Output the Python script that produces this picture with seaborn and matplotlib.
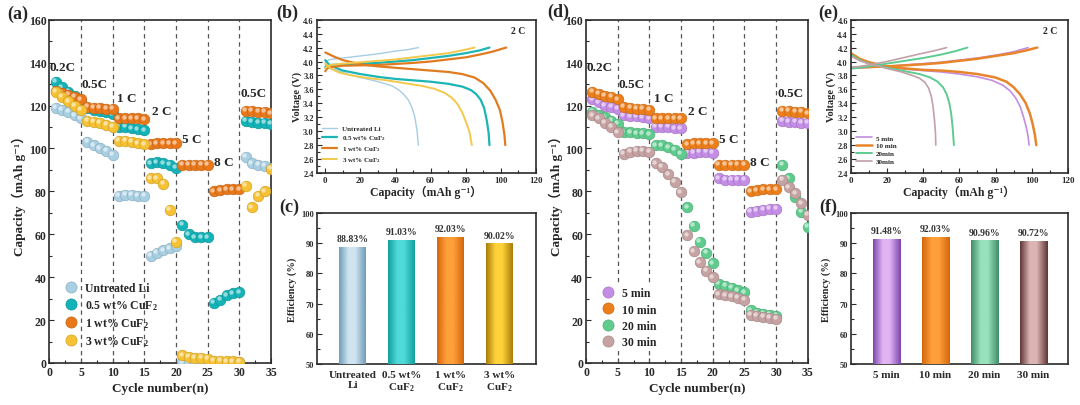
import numpy as np
import pandas as pd
import matplotlib
matplotlib.use("Agg")
import matplotlib.pyplot as plt
import seaborn as sns
import matplotlib.transforms as mtransforms
from matplotlib.colors import LinearSegmentedColormap
from matplotlib.lines import Line2D
from matplotlib.ticker import MultipleLocator

# ---------------- data ----------------
cycles = list(range(1, 36))

# panel (a)
cap_untreated = [119, 118, 117, 115.5, 114, 103, 101.5, 100, 99, 97,
                 78, 78.5, 78.3, 78, 78, 50, 51.5, 52.5, 53.5, 54.5,
                 0.3, 0.3, 0.3, 0.3, 0.3, 0.3, 0.3, 0.3, 0.3, 0.3,
                 96, 93, 92.5, 92, 91]
cap_05wt = [131, 128.5, 126.5, 124.5, 122, 119, 118, 117.5, 117, 116,
            110, 110, 109.5, 109, 108.5, 93, 93.5, 93, 92.5, 91,
            64.5, 60, 58.5, 58.5, 58.5, 28, 29.5, 31.5, 32.5, 33,
            113, 112.5, 112, 112, 111.5]
cap_1wt = [127, 126, 125, 124, 123, 119.5, 119, 119, 118.5, 118.5,
           114, 114, 114, 114, 113.5, 102, 102.5, 102.5, 102.5, 102.5,
           92.5, 92.5, 92.5, 92.5, 92.5, 80, 80.5, 81, 81, 81,
           117.5, 117.5, 117, 117, 116.5]
cap_3wt = [126.5, 124, 122, 120, 118, 113, 112.5, 112, 111, 110,
           103.5, 103.5, 103, 102.5, 102, 86, 86, 83.5, 71.5, 56.5,
           3.5, 3, 2.5, 2.5, 2, 1, 1, 0.8, 0.8, 0.5,
           82.5, 72.5, 78, 80, 90.5]

# panel (d)
cap_5min = [123, 121.5, 120, 119.5, 118.5, 115.5, 115, 115, 114.5, 114,
            110, 110, 110, 109.5, 109.5, 98, 98, 98.5, 98.5, 98,
            86, 85.5, 85.5, 85.5, 85.5, 70.5, 71, 71.5, 72, 72,
            113, 112.5, 112.5, 112, 112]
cap_10min = [126.5, 125.5, 124.5, 124, 123, 119.5, 119, 118.5, 118.5, 118,
             114, 114, 114, 114, 114, 102, 102.5, 102.5, 102.5, 102.5,
             92.5, 92.5, 92.5, 92.5, 92.5, 80, 80.5, 81, 81, 81,
             117.5, 117.5, 117, 117, 116.5]
cap_20min = [117, 115.5, 114.5, 113, 111.5, 107.5, 107.5, 107, 107, 106.5,
             101.5, 101.5, 100.5, 99.5, 97.5, 72.5, 64, 56.5, 51.5, 46.5,
             37, 36, 35, 34, 33, 24.5, 23.5, 23, 22.5, 22,
             92.5, 86, 77.5, 70.5, 63.5]
cap_30min = [115.5, 114, 112, 110, 107.5, 97.5, 98.5, 99, 99, 98.5,
             93, 91.5, 88, 84.5, 79.5, 59.5, 52, 47, 43, 40,
             32, 31.5, 31, 30.5, 29.5, 22.5, 22, 21.5, 21, 20.5,
             85.5, 82, 79, 74.5, 69]

rate_boundaries = [5, 10, 15, 20, 25, 30]
rate_labels = ["0.2C", "0.5C", "1 C", "2 C", "5 C", "8 C", "0.5C"]

# panel (b) charge / discharge curves (capacity, voltage)
b_untreated_chg_x = [0, 1, 3, 10, 20, 30, 40, 47, 53]
b_untreated_chg_y = [3.98, 4.01, 4.03, 4.05, 4.08, 4.11, 4.15, 4.17, 4.20]
b_untreated_dis_x = [0, 3, 7, 14, 20, 27, 33, 38, 42, 45, 47.5, 49.5, 51, 52.2, 53]
b_untreated_dis_y = [3.95, 3.90, 3.87, 3.81, 3.77, 3.73, 3.69, 3.65, 3.59, 3.52,
                     3.44, 3.33, 3.20, 3.02, 2.80]
b_05_chg_x = [0, 1, 3, 10, 20, 30, 40, 50, 60, 70, 80, 88, 93.5]
b_05_chg_y = [3.92, 3.94, 3.95, 3.96, 3.97, 3.98, 4.00, 4.02, 4.05, 4.08, 4.12, 4.16, 4.20]
b_05_dis_x = [0, 2, 5, 10, 20, 30, 40, 50, 60, 70, 78, 83, 86, 88.5, 90.5, 92, 93, 93.5]
b_05_dis_y = [4.02, 3.96, 3.92, 3.87, 3.82, 3.78, 3.75, 3.73, 3.71, 3.68, 3.64,
              3.59, 3.53, 3.45, 3.33, 3.15, 2.98, 2.80]
b_1_chg_x = [0, 1, 3, 10, 20, 30, 40, 50, 60, 70, 80, 88, 95, 103]
b_1_chg_y = [3.86, 3.90, 3.92, 3.94, 3.945, 3.95, 3.965, 3.98, 4.00, 4.03, 4.06,
             4.10, 4.14, 4.20]
b_1_dis_x = [0, 5, 10, 20, 30, 40, 50, 60, 70, 78, 85, 90, 94, 97, 99.5, 101, 102, 102.5]
b_1_dis_y = [4.13, 4.07, 4.02, 3.96, 3.93, 3.91, 3.89, 3.87, 3.85, 3.82, 3.77, 3.69,
             3.58, 3.45, 3.30, 3.12, 2.95, 2.80]
b_3_chg_x = [0, 1, 3, 10, 20, 30, 40, 50, 60, 70, 78, 85]
b_3_chg_y = [3.90, 3.93, 3.95, 3.97, 3.99, 4.01, 4.03, 4.06, 4.09, 4.12, 4.16, 4.20]
b_3_dis_x = [0, 3, 8, 15, 25, 35, 45, 55, 62, 68, 72, 75, 78, 80, 82, 83.5]
b_3_dis_y = [3.97, 3.90, 3.84, 3.80, 3.76, 3.73, 3.69, 3.65, 3.61, 3.55, 3.48, 3.40,
             3.27, 3.14, 3.00, 2.80]

# panel (e)
e_5_chg_x = [0, 10, 20, 30, 40, 50, 60, 70, 80, 90, 98]
e_5_chg_y = [3.90, 3.915, 3.93, 3.95, 3.97, 3.99, 4.02, 4.05, 4.09, 4.14, 4.20]
e_5_dis_x = [0, 5, 10, 20, 30, 40, 50, 60, 70, 78, 84, 88, 91, 93.5, 95.5, 97, 98, 98.5]
e_5_dis_y = [4.10, 4.02, 3.97, 3.92, 3.89, 3.87, 3.85, 3.82, 3.78, 3.73, 3.66, 3.58,
             3.48, 3.36, 3.20, 3.05, 2.92, 2.80]
e_10_chg_x = [0, 10, 20, 30, 40, 50, 60, 70, 80, 90, 97, 103]
e_10_chg_y = [3.91, 3.92, 3.93, 3.945, 3.96, 3.98, 4.01, 4.04, 4.08, 4.12, 4.16, 4.20]
e_10_dis_x = [0, 5, 10, 20, 30, 40, 50, 60, 70, 80, 86, 90, 93.5, 96.5, 99, 100.5,
              101.7, 102.5]
e_10_dis_y = [4.12, 4.04, 3.99, 3.93, 3.90, 3.88, 3.87, 3.85, 3.82, 3.77, 3.71, 3.63,
              3.53, 3.41, 3.25, 3.10, 2.95, 2.80]
e_20_chg_x = [0, 5, 10, 20, 30, 40, 50, 58, 64.5]
e_20_chg_y = [3.90, 3.91, 3.93, 3.97, 4.01, 4.05, 4.10, 4.15, 4.20]
e_20_dis_x = [0, 5, 10, 20, 30, 38, 44, 48, 51, 53, 54.5, 55.5, 56.3, 57]
e_20_dis_y = [4.10, 4.02, 3.97, 3.91, 3.86, 3.82, 3.77, 3.71, 3.63, 3.53, 3.40, 3.25,
              3.05, 2.80]
e_30_chg_x = [0, 5, 10, 20, 30, 40, 47, 53]
e_30_chg_y = [3.92, 3.93, 3.95, 4.00, 4.06, 4.12, 4.16, 4.20]
e_30_dis_x = [0, 5, 10, 20, 28, 34, 38, 41, 43, 44.5, 45.5, 46.3, 46.8, 47]
e_30_dis_y = [4.08, 4.01, 3.97, 3.90, 3.85, 3.80, 3.76, 3.70, 3.62, 3.50, 3.35, 3.15,
              2.98, 2.80]

# panel (c) / (f)
c_categories = ["Untreated\nLi", "0.5 wt%\nCuF$_2$", "1 wt%\nCuF$_2$", "3 wt%\nCuF$_2$"]
c_values = [88.83, 91.03, 92.03, 90.02]
f_categories = ["5 min", "10 min", "20 min", "30 min"]
f_values = [91.48, 92.03, 90.96, 90.72]

# ---------------- style ----------------
sns.set_theme(style="ticks")
plt.rcParams["font.family"] = ["Liberation Serif", "DejaVu Serif", "Noto Sans CJK SC"]
plt.rcParams["font.weight"] = "bold"
plt.rcParams["axes.labelweight"] = "bold"
plt.rcParams["mathtext.fontset"] = "custom"
plt.rcParams["mathtext.rm"] = "Liberation Serif:bold"
plt.rcParams["mathtext.default"] = "regular"

fig = plt.figure(figsize=(10.8, 4.06), dpi=100)

W, H = 1080, 406
def add_ax(l, r, t, b):
    return fig.add_axes([l / W, 1 - b / H, (r - l) / W, (b - t) / H])

ax_a = add_ax(49.3, 271, 20.7, 364)
ax_b = add_ax(316.5, 536, 20.7, 174)
ax_c = add_ax(316.5, 536, 214, 365)
ax_d = add_ax(586, 807.7, 20.7, 364)
ax_e = add_ax(850.7, 1068, 20.7, 174)
ax_f = add_ax(850.7, 1068, 214, 365)

def style_ax(ax, lsize=8):
    for s in ax.spines.values():
        s.set_visible(True)
        s.set_linewidth(1.2)
        s.set_color("#2a2a2a")
    ax.tick_params(which="both", direction="in", width=0.8, colors="#2a2a2a",
                   labelsize=lsize, pad=2)
    ax.tick_params(which="major", length=3.5)
    ax.tick_params(which="minor", length=2)
    ax.set_facecolor("white")

def darker(c, f=0.75):
    r, g, b = matplotlib.colors.to_rgb(c)
    return (r * f, g * f, b * f)

# ---------------- rate panels ----------------
def rate_panel(ax, series, names, colors, legend_frame):
    ax.set_xlim(0, 35)
    ax.set_ylim(0, 160)
    for xb in rate_boundaries:
        ax.axvline(xb, color="#555555", lw=0.9, ls=(0, (3.5, 3)), zorder=1)
    hl = mtransforms.offset_copy(ax.transData, fig=fig, x=-1.1, y=1.1, units="points")
    for vals, name, col in zip(series, names, colors):
        df = pd.DataFrame({"cycle": cycles, "cap": vals})
        sns.scatterplot(data=df, x="cycle", y="cap", color=col, s=58,
                        edgecolor=darker(col, 0.85), linewidth=0.5, ax=ax,
                        zorder=3, legend=False)
        ax.scatter(df["cycle"], df["cap"], s=10, color="white", alpha=0.55,
                   linewidths=0, transform=hl, zorder=3)
    style_ax(ax, 8.5)
    ax.xaxis.set_major_locator(MultipleLocator(5))
    ax.xaxis.set_minor_locator(MultipleLocator(2.5))
    ax.yaxis.set_major_locator(MultipleLocator(20))
    ax.yaxis.set_minor_locator(MultipleLocator(10))
    ax.set_xlabel("Cycle number(n)", fontsize=9.5, labelpad=3)
    ax.set_ylabel("Capacity\uff08mAh g\u207b\u00b9\uff09", fontsize=9.5, labelpad=2)
    label_pos = [(2.1, 138), (7.2, 130), (12.3, 123.5), (17.7, 117.5),
                 (22.5, 104.4), (27.5, 93.6), (32.3, 126)]
    for lab, (x, y) in zip(rate_labels, label_pos):
        ax.text(x, y, lab, fontsize=9.5, fontweight="bold", ha="center",
                va="center", zorder=5)
    handles = [Line2D([], [], ls="none", marker="o", ms=8, color=c,
                      markeredgecolor=darker(c, 0.85), markeredgewidth=0.5)
               for c in colors]
    leg = ax.legend(handles, names, loc="lower left", bbox_to_anchor=(0.03, 0.02),
                    frameon=legend_frame, fontsize=8.5, handletextpad=0.6,
                    labelspacing=0.35, borderpad=0.2, handlelength=1.2)
    if legend_frame:
        leg.get_frame().set_edgecolor("none")
        leg.get_frame().set_alpha(1)
    leg.set_zorder(4)

rate_panel(ax_a, [cap_untreated, cap_05wt, cap_1wt, cap_3wt],
           ["Untreated Li", "0.5 wt% CuF$_2$", "1 wt% CuF$_2$", "3 wt% CuF$_2$"],
           ["#a9cfe3", "#14b3b8", "#e9781a", "#f6c132"], False)
rate_panel(ax_d, [cap_5min, cap_10min, cap_20min, cap_30min],
           ["5 min", "10 min", "20 min", "30 min"],
           ["#c48de6", "#ec7f1c", "#5fcc8e", "#c6a2a2"], True)

# ---------------- voltage panels ----------------
def voltage_panel(ax, curves, names, colors, lws, xmin):
    rows = []
    for (cx, cy, dx, dy), name in zip(curves, names):
        for x, y in zip(cx, cy):
            rows.append((x, y, name, name + "_c"))
        for x, y in zip(dx, dy):
            rows.append((x, y, name, name + "_d"))
    df = pd.DataFrame(rows, columns=["cap", "volt", "sample", "branch"])
    for name, col, lw in zip(names, colors, lws):
        sub = df[df["sample"] == name]
        sns.lineplot(data=sub, x="cap", y="volt", units="branch", estimator=None,
                     sort=False, color=col, lw=lw, ax=ax, legend=False)
    ax.set_xlim(xmin, 120)
    ax.set_ylim(2.4, 4.6)
    style_ax(ax, 6.5)
    ax.tick_params(axis="y", labelsize=6)
    ax.xaxis.set_major_locator(MultipleLocator(20))
    ax.xaxis.set_minor_locator(MultipleLocator(10))
    ax.yaxis.set_major_locator(MultipleLocator(0.2))
    ax.yaxis.set_minor_locator(MultipleLocator(0.1))
    ax.set_xlabel("Capacity\uff08mAh g\u207b\u00b9\uff09", fontsize=8.5, labelpad=1)
    ax.set_ylabel("Voltage (V)", fontsize=7.5, labelpad=1)
    ax.text(110, 4.44, "2 C", fontsize=7, fontweight="bold", ha="center", va="center")
    handles = [Line2D([], [], color=c, lw=lw) for c, lw in zip(colors, lws)]
    ax.legend(handles, names, loc="lower left", bbox_to_anchor=(0.0, 0.02),
              frameon=False, fontsize=5, handlelength=2.2, labelspacing=0.3,
              handletextpad=0.6, borderpad=0.3)

voltage_panel(ax_b,
              [(b_untreated_chg_x, b_untreated_chg_y, b_untreated_dis_x, b_untreated_dis_y),
               (b_05_chg_x, b_05_chg_y, b_05_dis_x, b_05_dis_y),
               (b_1_chg_x, b_1_chg_y, b_1_dis_x, b_1_dis_y),
               (b_3_chg_x, b_3_chg_y, b_3_dis_x, b_3_dis_y)],
              ["Untreated Li", "0.5 wt% CuF$_2$", "1 wt% CuF$_2$", "3 wt% CuF$_2$"],
              ["#a6cde3", "#1bb5b5", "#e07b20", "#f2c94c"], [1.0, 1.6, 1.6, 1.4], -5)
voltage_panel(ax_e,
              [(e_5_chg_x, e_5_chg_y, e_5_dis_x, e_5_dis_y),
               (e_10_chg_x, e_10_chg_y, e_10_dis_x, e_10_dis_y),
               (e_20_chg_x, e_20_chg_y, e_20_dis_x, e_20_dis_y),
               (e_30_chg_x, e_30_chg_y, e_30_dis_x, e_30_dis_y)],
              ["5 min", "10 min", "20min", "30min"],
              ["#c28ee0", "#e8842a", "#5ccc90", "#c4a0a8"], [1.2, 1.8, 1.4, 1.2], 0)

# ---------------- efficiency bars ----------------
def bar_panel(ax, cats, vals, grads, xlim):
    df = pd.DataFrame({"cat": cats, "eff": vals})
    sns.barplot(data=df, x="cat", y="eff", ax=ax, width=0.55,
                color="#cccccc", edgecolor="none", linewidth=0, zorder=2)
    ymin = 50
    for patch, (dark, light), v in zip(ax.patches, grads, vals):
        x0, w, h = patch.get_x(), patch.get_width(), patch.get_height()
        cmap = LinearSegmentedColormap.from_list("g", [(0, dark), (0.35, light),
                                                       (0.6, light), (1, dark)])
        grad = np.linspace(0, 1, 256).reshape(1, -1)
        im = ax.imshow(grad, extent=[x0, x0 + w, ymin, h], aspect="auto", cmap=cmap,
                       zorder=3, interpolation="bilinear")
        im.set_clip_path(patch)
        patch.set_facecolor("none")
        ax.text(x0 + w / 2, v + 1.2, f"{v:.2f}%", ha="center", va="bottom",
                fontsize=7, fontweight="bold", color="#333333")
    ax.set_xlim(*xlim)
    ax.set_ylim(ymin, 100)
    style_ax(ax, 6)
    ax.tick_params(axis="x", length=0, labelsize=8, pad=4)
    ax.yaxis.set_major_locator(MultipleLocator(10))
    ax.yaxis.set_minor_locator(MultipleLocator(5))
    ax.set_xlabel("")
    ax.set_ylabel("Efficiency (%)", fontsize=7.5, labelpad=3)

bar_panel(ax_c, c_categories, c_values,
          [("#6f9cbb", "#cfe4f0"), ("#139e9e", "#4fdada"),
           ("#d4660c", "#ff9f3a"), ("#a87c08", "#ffd23a")], (-0.74, 3.74))
bar_panel(ax_f, f_categories, f_values,
          [("#7c44ad", "#e0b4f2"), ("#d4660c", "#ff9f3a"),
           ("#3f8c68", "#98e2bc"), ("#5e3434", "#dcb4b4")], (-0.72, 3.7))

# ---------------- panel tags ----------------
for tag, x, y in [("(a)", 18, 14), ("(b)", 287, 13), ("(c)", 289, 207),
                  ("(d)", 558, 12), ("(e)", 828, 13), ("(f)", 828, 207)]:
    fig.text(x / W, 1 - y / H, tag, fontsize=13, fontweight="bold",
             ha="center", va="center")

fig.savefig("out.png", dpi=100, facecolor="white")
